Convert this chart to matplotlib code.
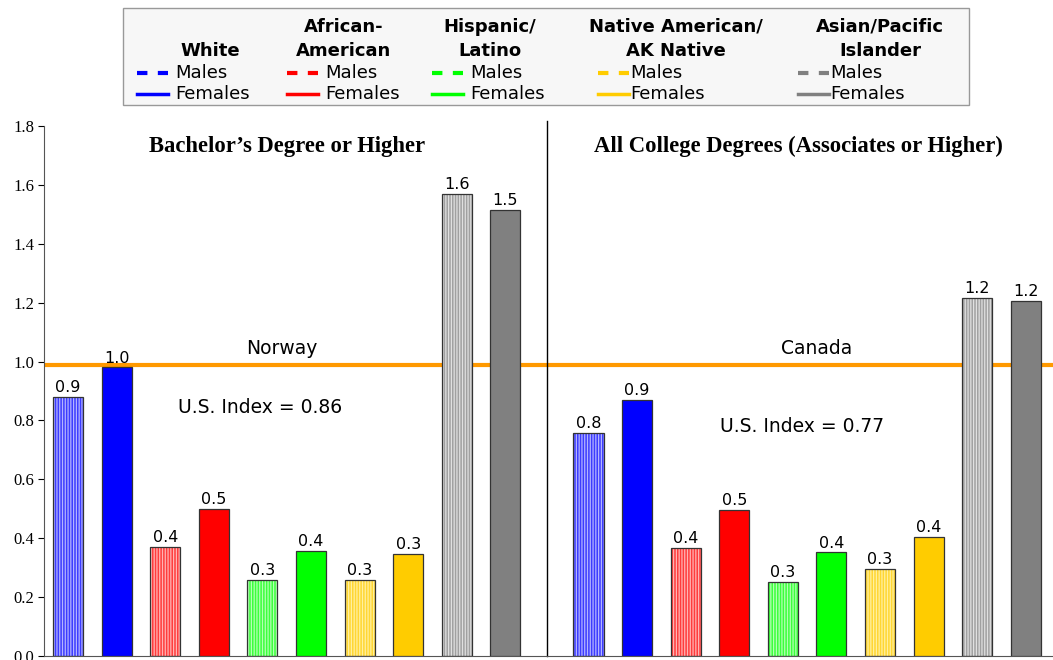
import matplotlib
matplotlib.use("Agg")
import matplotlib.pyplot as plt
from matplotlib.patches import Rectangle
from matplotlib.lines import Line2D

# ---- data ----
groups = ["White", "African-\nAmerican", "Hispanic/\nLatino", "Native American/\nAK Native", "Asian/Pacific\nIslander"]
group_colors = ["#0000FF", "#FF0000", "#00FF00", "#FFCC00", "#808080"]
male_base = ["#3C3CFF", "#FF3C3C", "#3CFF3C", "#FFD633", "#A0A0A0"]
male_stripe = ["#B4B4FF", "#FFB4B4", "#B4FFB4", "#FFF0A0", "#E0E0E0"]
bachelor_males = [0.88, 0.37, 0.258, 0.258, 1.569]
bachelor_females = [0.98, 0.50, 0.357, 0.346, 1.515]
college_males = [0.757, 0.367, 0.251, 0.296, 1.216]
college_females = [0.87, 0.496, 0.352, 0.404, 1.206]
panel_titles = ["Bachelor\u2019s Degree or Higher", "All College Degrees (Associates or Higher)"]
benchmarks = ["Norway", "Canada"]
benchmark_value = 0.99
us_index = ["U.S. Index = 0.86", "U.S. Index = 0.77"]
yticks = [0.0, 0.2, 0.4, 0.6, 0.8, 1.0, 1.2, 1.4, 1.6, 1.8]

plt.rcParams['hatch.linewidth'] = 0.9

fig = plt.figure(figsize=(10.53, 6.6), dpi=100)
W, H = 1053, 660
ax = fig.add_axes([44 / W, 4 / H, (W - 44) / W, (656 - 126) / H])

bw = 0.62
offsets = [0.0, 10.71]
panels = [(bachelor_males, bachelor_females), (college_males, college_females)]
for p, (males, females) in enumerate(panels):
    for g in range(len(groups)):
        for s, vals in enumerate((males, females)):
            x = offsets[p] + 2 * g + s
            v = vals[g]
            if s == 0:
                ax.bar(x, v, width=bw, color=male_base[g], edgecolor=male_stripe[g],
                       hatch="||||||", linewidth=0, zorder=2)
                ax.bar(x, v, width=bw, fill=False, edgecolor="#333333", linewidth=0.9, zorder=3)
            else:
                ax.bar(x, v, width=bw, color=group_colors[g], edgecolor="#333333",
                       linewidth=0.9, zorder=3)
            ax.text(x, v + 0.006, f"{v:.1f}", ha="center", va="bottom", fontsize=11.5,
                    family="DejaVu Sans", color="black", zorder=4)

ax.set_xlim(-0.494, 20.27)
ax.set_ylim(0, 1.8)
ax.axhline(benchmark_value, color="#FF9900", linewidth=3, zorder=1)
ax.axvline(9.856, color="black", linewidth=1, ymin=0, ymax=1.01, clip_on=False, zorder=1)

ax.set_yticks(yticks)
ax.set_yticklabels([f"{t:.1f}" for t in yticks], family="Liberation Serif", fontsize=12)
ax.set_xticks([])
ax.tick_params(axis="y", direction="out", length=4, width=0.8, pad=3)
for sp in ["top", "right"]:
    ax.spines[sp].set_visible(False)
ax.spines["left"].set_color("#555555")
ax.spines["bottom"].set_color("#555555")

# panel titles / annotations
ax.text(4.5, 1.73, panel_titles[0], ha="center", va="center", fontsize=16.3,
        family="Liberation Serif", fontweight="bold")
ax.text(15.03, 1.73, panel_titles[1], ha="center", va="center", fontsize=16.3,
        family="Liberation Serif", fontweight="bold")
ax.text(4.4, 1.045, benchmarks[0], ha="center", va="center", fontsize=13.5)
ax.text(15.4, 1.045, benchmarks[1], ha="center", va="center", fontsize=13.5)
ax.text(3.95, 0.845, us_index[0], ha="center", va="center", fontsize=13.5)
ax.text(15.1, 0.78, us_index[1], ha="center", va="center", fontsize=13.5)

# ---- legend (manual) ----
def fx(px):
    return px / W

def fy(py):
    return 1 - py / H

fig.patches.append(Rectangle((fx(123), fy(105)), fx(969) - fx(123), fy(8) - fy(105),
                             transform=fig.transFigure, facecolor="#F7F7F7",
                             edgecolor="#999999", linewidth=1, zorder=0))
col_centers = [210, 344, 490, 676, 880]
line_starts = [137, 287, 432, 598, 798]
for g in range(len(groups)):
    fig.text(fx(col_centers[g]), fy(60), groups[g], ha="center", va="bottom",
             fontsize=13, fontweight="bold", linespacing=1.45)
    x0 = line_starts[g]
    fig.add_artist(Line2D([fx(x0), fx(x0 + 31)], [fy(73), fy(73)], color=group_colors[g],
                          linewidth=3, linestyle=(0, (2.5, 2.5)), transform=fig.transFigure))
    fig.add_artist(Line2D([fx(x0), fx(x0 + 31)], [fy(94), fy(94)], color=group_colors[g],
                          linewidth=2.5, transform=fig.transFigure))
    tx = x0 + 38 if g < 3 else x0 + 32
    fig.text(fx(tx), fy(73), "Males", ha="left", va="center", fontsize=13)
    fig.text(fx(tx), fy(94), "Females", ha="left", va="center", fontsize=13)

fig.savefig("out.png", dpi=100)
